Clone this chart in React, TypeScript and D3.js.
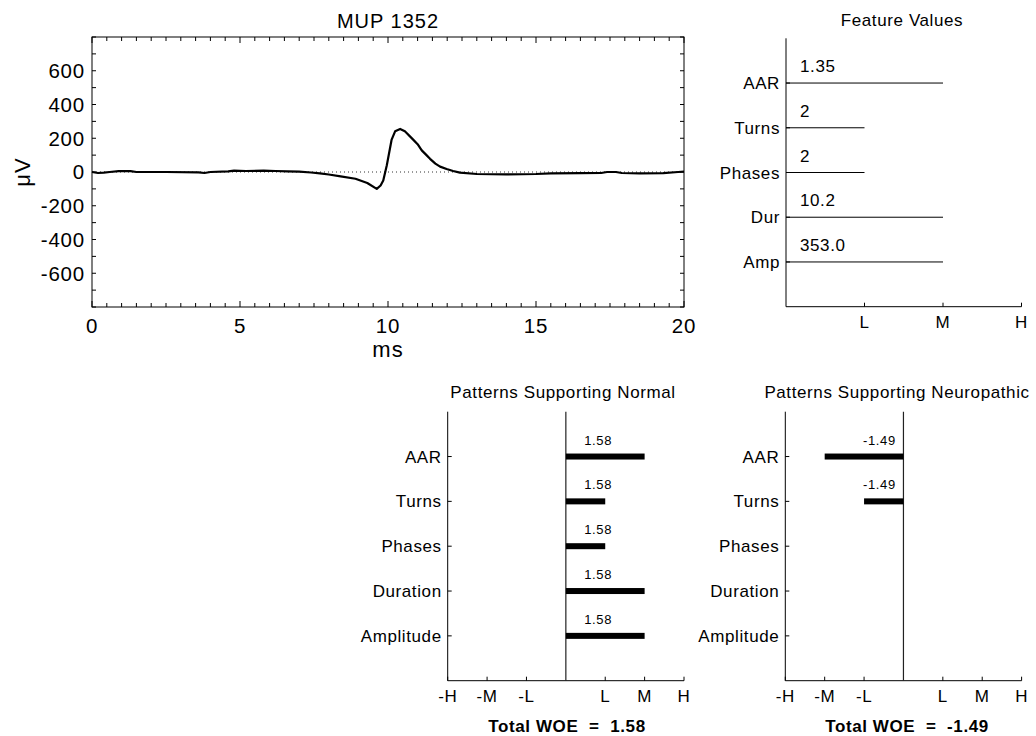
import React from 'react';
import * as d3 from 'd3';

// ---------- data ----------
const mupTime = [0, 0.2, 0.4, 0.6, 0.9, 1.3, 1.5, 2.5, 3.6, 3.8, 4.0, 4.6, 4.8, 5.2, 5.8, 6.2, 6.6, 7.0, 7.4, 7.7, 8.0, 8.4, 8.9, 9.3, 9.62, 9.75, 9.84, 9.96, 10.12, 10.24, 10.41, 10.57, 10.85, 11.0, 11.14, 11.3, 11.42, 11.6, 11.76, 11.98, 12.2, 12.43, 13.0, 14.0, 15.0, 15.5, 16.5, 17.2, 17.4, 17.7, 17.9, 18.5, 19.3, 19.8, 20];
const mupVolt = [0, -6, -4, 0, 5, 5, 0, 0, -2, -6, 0, 4, 8, 6, 8, 6, 4, 2, -3, -8, -15, -26, -40, -65, -100, -80, -50, 40, 190, 241, 255, 241, 192, 165, 128, 100, 78, 50, 32, 18, 6, -4, -12, -14, -12, -8, -7, -6, 0, 0, -6, -8, -7, 0, 2];
const mupYTicks = [-600, -400, -200, 0, 200, 400, 600];
const mupXTicks = [0, 5, 10, 15, 20];

const featureCats = ['AAR', 'Turns', 'Phases', 'Dur', 'Amp'];
const featureLevels = [2, 1, 1, 2, 2];
const featureLabels = ['1.35', '2', '2', '10.2', '353.0'];
const levelTickVals = [1, 2, 3];
const levelTickLabels = ['L', 'M', 'H'];

const woeCats = ['AAR', 'Turns', 'Phases', 'Duration', 'Amplitude'];
const normalWoe = [2, 1, 1, 2, 2];
const normalLabels = ['1.58', '1.58', '1.58', '1.58', '1.58'];
const neuroWoe = [-2, -1, null, null, null];
const neuroLabels = ['-1.49', '-1.49', null, null, null];
const woeTickVals = [-3, -2, -1, 1, 2, 3];
const woeTickLabels = ['-H', '-M', '-L', 'L', 'M', 'H'];
const normalTotal = '1.58';
const neuroTotal = '-1.49';

const FONT = 'Liberation Sans, Arial, Helvetica, sans-serif';

function MupPanel() {
  const x = d3.scaleLinear().domain([0, 20]).range([92, 684]);
  const y = d3.scaleLinear().domain([-800, 800]).range([307, 37]);
  const line = d3.line<number>().x((_, i) => x(mupTime[i])).y((d) => y(d));
  const xMinor = d3.range(0, 20.001, 0.5);
  const yMinor = d3.range(-800, 800.001, 100);
  const [x0, x1] = x.range();
  const [yb, yt] = y.range();
  return (
    <g fontFamily={FONT}>
      <text x={388} y={28} fontSize={20} letterSpacing={1} textAnchor="middle">MUP 1352</text>
      <line x1={x0} x2={x1} y1={y(0)} y2={y(0)} stroke="#333" strokeWidth={1} strokeDasharray="1,3" />
      <path d={line(mupVolt) || ''} fill="none" stroke="#000" strokeWidth={2.2} strokeLinejoin="round" />
      <rect x={x0} y={yt} width={x1 - x0} height={yb - yt} fill="none" stroke="#000" strokeWidth={1} />
      {xMinor.map((v) => {
        const major = Math.abs(v % 5) < 1e-6;
        const len = major ? 6 : 4;
        return (
          <g key={'xt' + v}>
            <line x1={x(v)} x2={x(v)} y1={yb} y2={yb - len} stroke="#000" />
            <line x1={x(v)} x2={x(v)} y1={yt} y2={yt + len} stroke="#000" />
          </g>
        );
      })}
      {yMinor.map((v) => (
        <g key={'yt' + v}>
          <line x1={x0} x2={x0 + 4} y1={y(v)} y2={y(v)} stroke="#000" />
          <line x1={x1} x2={x1 - 4} y1={y(v)} y2={y(v)} stroke="#000" />
        </g>
      ))}
      {mupYTicks.map((v) => (
        <text key={'yl' + v} x={x0 - 7} y={y(v)} dy="0.36em" fontSize={20.5} letterSpacing={0.8} textAnchor="end">{v}</text>
      ))}
      {mupXTicks.map((v) => (
        <text key={'xl' + v} x={x(v)} y={333} fontSize={20.5} letterSpacing={0.8} textAnchor="middle">{v}</text>
      ))}
      <text x={388} y={357} fontSize={22} letterSpacing={1} textAnchor="middle">ms</text>
      <text transform={`translate(30,${y(0)}) rotate(-90)`} fontSize={22} letterSpacing={1} textAnchor="middle">μV</text>
    </g>
  );
}

function FeaturePanel() {
  const x = d3.scaleLinear().domain([0, 3]).range([786, 1021.5]);
  const y = d3.scaleLinear().domain([0, 6]).range([306.7, 38.3]);
  return (
    <g fontFamily={FONT} fontSize={17} letterSpacing={0.6}>
      <text x={902} y={26} textAnchor="middle">Feature Values</text>
      <line x1={x(0)} x2={x(0)} y1={y(6)} y2={y(0)} stroke="#000" />
      <line x1={x(0)} x2={x(3)} y1={y(0)} y2={y(0)} stroke="#000" />
      {levelTickVals.map((v, i) => (
        <g key={'ft' + v}>
          <line x1={x(v)} x2={x(v)} y1={y(0)} y2={y(0) - 4} stroke="#000" />
          <text x={x(v)} y={328} textAnchor="middle">{levelTickLabels[i]}</text>
        </g>
      ))}
      {featureCats.map((c, i) => {
        const yy = y(5 - i);
        return (
          <g key={'fc' + c}>
            <line x1={x(0)} x2={x(0) + 4} y1={yy} y2={yy} stroke="#000" />
            <text x={x(0) - 6} y={yy} dy="0.36em" textAnchor="end">{c}</text>
            <line x1={x(0)} x2={x(featureLevels[i])} y1={yy} y2={yy} stroke="#000" strokeWidth={1} />
            <text x={x(0) + 14} y={yy - 11}>{featureLabels[i]}</text>
          </g>
        );
      })}
    </g>
  );
}

function WoePanel(props: { x0: number; title: string; titleX: number; values: (number | null)[]; labels: (string | null)[]; labelOffset: number; total: string; totalX: number }) {
  const x = d3.scaleLinear().domain([-3, 3]).range([props.x0, props.x0 + 236.3]);
  const y = d3.scaleLinear().domain([0, 6]).range([680.7, 411.7]);
  return (
    <g fontFamily={FONT} fontSize={17} letterSpacing={0.6}>
      <text x={props.titleX} y={398} textAnchor="middle">{props.title}</text>
      <line x1={x(-3)} x2={x(-3)} y1={y(6)} y2={y(0)} stroke="#000" />
      <line x1={x(-3)} x2={x(3)} y1={y(0)} y2={y(0)} stroke="#000" />
      <line x1={x(0)} x2={x(0)} y1={y(6)} y2={y(0)} stroke="#222" strokeWidth={1.2} />
      {woeTickVals.map((v, i) => (
        <g key={'wt' + v}>
          <line x1={x(v)} x2={x(v)} y1={y(0)} y2={y(0) - 4} stroke="#000" />
          <text x={x(v)} y={701.5} textAnchor="middle">{woeTickLabels[i]}</text>
        </g>
      ))}
      {woeCats.map((c, i) => {
        const yy = y(5 - i);
        const v = props.values[i];
        const lab = props.labels[i];
        return (
          <g key={'wc' + c}>
            <line x1={x(-3)} x2={x(-3) + 4} y1={yy} y2={yy} stroke="#000" />
            <text x={x(-3) - 6} y={yy} dy="0.36em" textAnchor="end">{c}</text>
            {v !== null && (
              <rect x={Math.min(x(0), x(v))} y={yy - 3} width={Math.abs(x(v) - x(0))} height={6} fill="#000" />
            )}
            {lab !== null && (
              <text x={x(props.labelOffset)} y={yy - 12} fontSize={13} textAnchor="middle">{lab}</text>
            )}
          </g>
        );
      })}
      <text x={props.totalX} y={731.5} fontWeight="bold" textAnchor="middle" style={{ whiteSpace: 'pre' }}>{'Total WOE  =  ' + props.total}</text>
    </g>
  );
}

export default function App() {
  return (
    <svg width={1036} height={736} style={{ position: 'absolute', left: 0, top: 0, background: '#fff' }}>
      <rect x={0} y={0} width={1036} height={736} fill="#fff" />
      <MupPanel />
      <FeaturePanel />
      <WoePanel x0={447.7} title="Patterns Supporting Normal" titleX={563} values={normalWoe} labels={normalLabels} labelOffset={0.82} total={normalTotal} totalX={567} />
      <WoePanel x0={785.3} title="Patterns Supporting Neuropathic" titleX={897} values={neuroWoe} labels={neuroLabels} labelOffset={-0.61} total={neuroTotal} totalX={907} />
    </svg>
  );
}
